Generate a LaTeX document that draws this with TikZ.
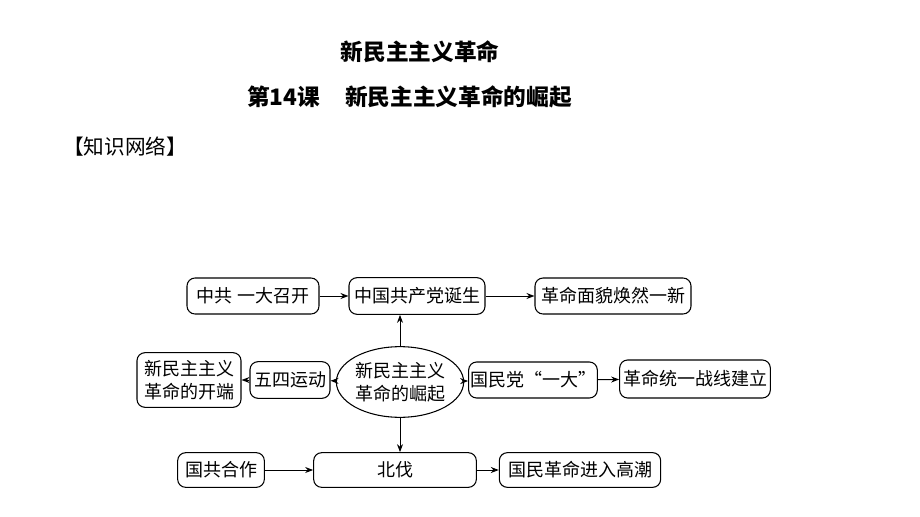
\documentclass[tikz,border=0pt]{standalone}
\usepackage{fontspec}
\newfontfamily\cjk{Noto Sans CJK SC}
\usetikzlibrary{shapes.geometric,arrows.meta}
\tikzset{
  box/.style={draw, rounded corners=6pt, line width=0.8pt, inner sep=1pt, align=center,
    font=\cjk\fontsize{13.5}{17}\selectfont},
  oval/.style={draw, ellipse, line width=0.8pt, inner sep=0pt, align=center,
    font=\cjk\fontsize{13.5}{17}\selectfont},
  arr/.style={line width=0.75pt, -{Stealth[length=6pt,width=4.5pt]}},
  ttl/.style={font=\cjk\bfseries\fontsize{17}{20}\selectfont, inner sep=0pt}
}
\begin{document}
\begin{tikzpicture}[x=0.75pt,y=-0.75pt]
\useasboundingbox (0,0) rectangle (920,517);
\node[ttl] (t1) at (420,52) {新民主主义革命};
\node[ttl, anchor=west] (t2) at (247,97) {第14课\hspace{1.1em}新民主主义革命的崛起};
\node[ttl, font=\cjk\fontsize{15.5}{19}\selectfont, anchor=west] (t3) at (63,147) {【知识网络】};

\node[box, minimum width=99pt, minimum height=27pt] (a) at (253,296) {中共 一大召开};
\node[box, minimum width=102pt, minimum height=27.5pt] (b) at (417,296) {中国共产党诞生};
\node[box, minimum width=117pt, minimum height=27pt] (c) at (613,296) {革命面貌焕然一新};
\node[box, minimum width=78pt, minimum height=41pt] (d) at (189,380) {新民主主义\\革命的开端};
\node[box, minimum width=60pt, minimum height=27.5pt] (e) at (290,380) {五四运动};
\node[oval, minimum width=91pt, minimum height=53pt] (f) at (400,382) {新民主主义\\革命的崛起};
\node[box, minimum width=92pt, minimum height=27pt] (g) at (533,380) {国民党“一大”};
\node[box, minimum width=113pt, minimum height=28.5pt] (h) at (695,379) {革命统一战线建立};
\node[box, minimum width=65pt, minimum height=26pt] (i) at (221,470) {国共合作};
\node[box, minimum width=122pt, minimum height=26pt] (j) at (395,470) {北伐};
\node[box, minimum width=121pt, minimum height=26pt] (k) at (580,470) {国民革命进入高潮};

\draw[arr] (a) -- (b);
\draw[arr] (b) -- (c);
\draw[arr] (f.north) -- (f.north |- b.south);
\draw[arr] (f) -- (e);
\draw[arr] (e) -- (d);
\draw[arr] (f) -- (g);
\draw[arr] (g) -- (h);
\draw[arr] (f.south) -- (f.south |- j.north);
\draw[arr] (i) -- (j);
\draw[arr] (j) -- (k);
\end{tikzpicture}
\end{document}
